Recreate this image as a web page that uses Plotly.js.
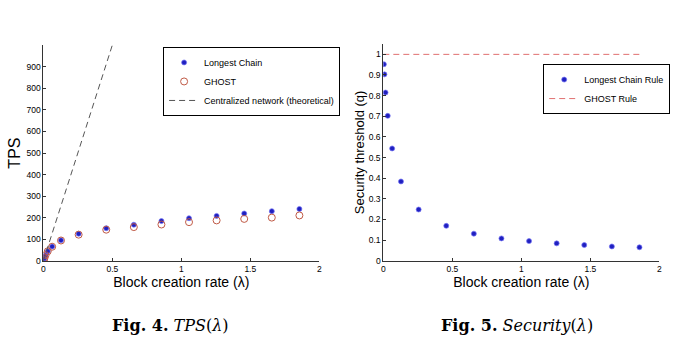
<!DOCTYPE html>
<html>
<head>
<meta charset="utf-8">
<script src="https://cdn.plot.ly/plotly-3.0.1.min.js"></script>
<style>
html,body{margin:0;padding:0;background:#fff;}
#chart{width:700px;height:364px;}
</style>
</head>
<body>
<div id="chart"></div>
<script>
// Block creation rate (lambda) values
var lambda = [0.004, 0.008, 0.016, 0.032, 0.064, 0.128, 0.256, 0.456, 0.656, 0.856, 1.056, 1.256, 1.456, 1.656, 1.856];
// Fig. 4: TPS
var tpsLongest = [6, 13, 27, 45, 67, 96, 126, 152, 168, 185, 198, 209, 220, 231, 241];
var tpsGhost   = [6, 13, 27, 45, 66, 95, 122, 145, 157, 169, 180, 188, 195, 201, 211];
var centralX = [0, 0.5];
var centralY = [0, 1000];
// Fig. 5: Security threshold
var secLongest = [0.952, 0.903, 0.815, 0.702, 0.544, 0.384, 0.248, 0.169, 0.131, 0.108, 0.095, 0.084, 0.076, 0.069, 0.065];
var ghostRuleX = [0, 1.86];
var ghostRuleY = [1, 1];
// Tick labels
var xTicks = [0, 0.5, 1, 1.5, 2];
var xTickText = ['0', '0.5', '1', '1.5', '2'];
var tpsTicks = [0, 100, 200, 300, 400, 500, 600, 700, 800, 900];
var secTicks = [0, 0.1, 0.2, 0.3, 0.4, 0.5, 0.6, 0.7, 0.8, 0.9, 1];
var secTickText = ['0', '0.1', '0.2', '0.3', '0.4', '0.5', '0.6', '0.7', '0.8', '0.9', '1'];

var blue = '#2020c0';
var red = '#c05a46';
var sans = 'Liberation Sans, Arial, sans-serif';

var traces = [
  {x: lambda, y: tpsLongest, mode: 'markers', name: 'Longest Chain', xaxis: 'x', yaxis: 'y', legend: 'legend',
   marker: {symbol: 'circle', size: 5, color: blue, line: {width: 1, color: 'rgba(120,120,245,0.7)'}}},
  {x: lambda, y: tpsGhost, mode: 'markers', name: 'GHOST', xaxis: 'x', yaxis: 'y', legend: 'legend',
   marker: {symbol: 'circle-open', size: 7, color: red, line: {width: 1, color: red}}},
  {x: centralX, y: centralY, mode: 'lines', name: 'Centralized network (theoretical)', xaxis: 'x', yaxis: 'y', legend: 'legend',
   line: {color: '#555555', width: 1, dash: '6px,4px'}},
  {x: lambda, y: secLongest, mode: 'markers', name: 'Longest Chain Rule', xaxis: 'x2', yaxis: 'y2', legend: 'legend2',
   marker: {symbol: 'circle', size: 5, color: blue, line: {width: 1, color: 'rgba(120,120,245,0.7)'}}},
  {x: ghostRuleX, y: ghostRuleY, mode: 'lines', name: 'GHOST Rule', xaxis: 'x2', yaxis: 'y2', legend: 'legend2',
   line: {color: '#e07070', width: 1, dash: '6px,4px'}}
];

var axisCommon = {
  showgrid: false, zeroline: false, showline: true, linecolor: '#333', linewidth: 1,
  ticks: 'inside', ticklen: 3, tickcolor: '#333', tickfont: {family: sans, size: 8.5, color: '#000'},
  mirror: false, fixedrange: true
};

function ax(extra) { return Object.assign({}, axisCommon, extra); }

var layout = {
  width: 700, height: 364,
  margin: {l: 0, r: 0, t: 0, b: 0},
  paper_bgcolor: '#fff', plot_bgcolor: '#fff',
  showlegend: true,
  xaxis: ax({domain: [0.0619, 0.4561], range: [0, 2], tickvals: xTicks, ticktext: xTickText, anchor: 'y',
    title: {text: 'Block creation rate (λ)', font: {family: sans, size: 14, color: '#000'}, standoff: 1}}),
  yaxis: ax({domain: [0.283, 0.876], range: [0, 1000], tickvals: tpsTicks, anchor: 'x',
    title: {text: 'TPS', font: {family: sans, size: 16, color: '#000'}, standoff: 1}}),
  xaxis2: ax({domain: [0.5476, 0.9419], range: [0, 2], tickvals: xTicks, ticktext: xTickText, anchor: 'y2',
    title: {text: 'Block creation rate (λ)', font: {family: sans, size: 14, color: '#000'}, standoff: 1}}),
  yaxis2: ax({domain: [0.2838, 0.879], range: [0, 1.05], tickvals: secTicks, ticktext: secTickText, anchor: 'x2',
    title: {text: 'Security threshold (q)', font: {family: sans, size: 13, color: '#000'}, standoff: 1}}),
  legend: {x: 0.233, y: 0.871, xanchor: 'left', yanchor: 'top', bgcolor: '#fff', bordercolor: '#000', borderwidth: 1,
    font: {family: sans, size: 9, color: '#000'}, itemwidth: 30, tracegroupgap: 0},
  legend2: {x: 0.776, y: 0.824, xanchor: 'left', yanchor: 'top', bgcolor: '#fff', bordercolor: '#000', borderwidth: 1,
    font: {family: sans, size: 9, color: '#000'}, itemwidth: 30, tracegroupgap: 0},
  annotations: [
    {xref: 'paper', yref: 'paper', x: 0.244, y: 0.107, xanchor: 'center', yanchor: 'middle', showarrow: false,
     text: '<b>Fig. 4.</b> <i>TPS</i>(<i>λ</i>)', font: {family: 'DejaVu Serif, serif', size: 16, color: '#000'}},
    {xref: 'paper', yref: 'paper', x: 0.739, y: 0.107, xanchor: 'center', yanchor: 'middle', showarrow: false,
     text: '<b>Fig. 5.</b> <i>Security</i>(<i>λ</i>)', font: {family: 'DejaVu Serif, serif', size: 16, color: '#000'}}
  ]
};

Plotly.newPlot('chart', traces, layout, {displayModeBar: false, staticPlot: true});
</script>
</body>
</html>
